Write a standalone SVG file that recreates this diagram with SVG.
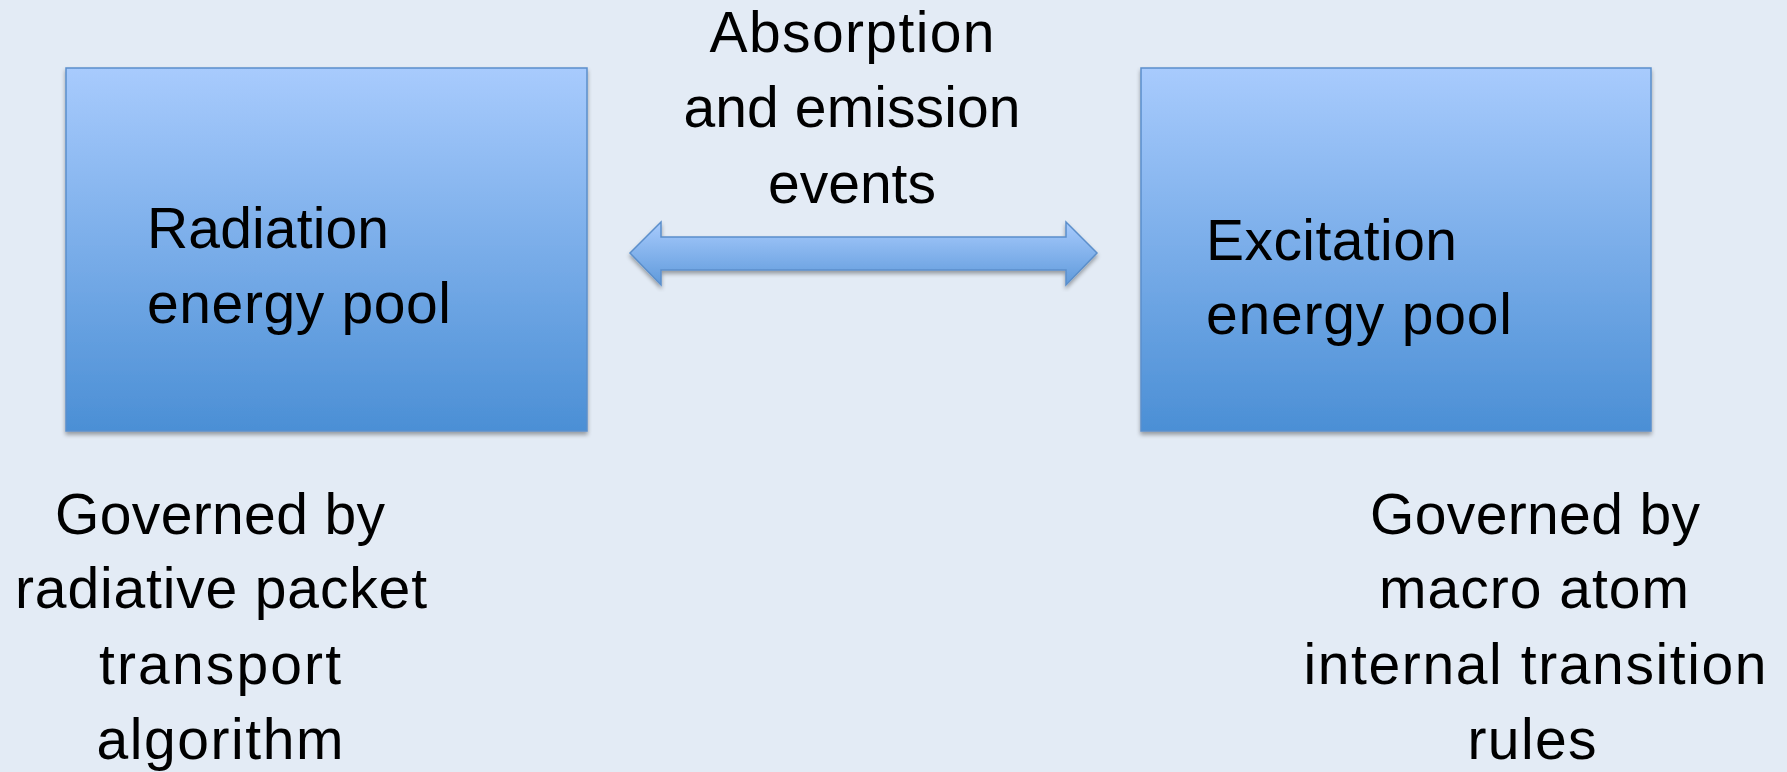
<svg xmlns="http://www.w3.org/2000/svg" width="1787" height="772" viewBox="0 0 1787 772">
<style>
.t{font-family:"Liberation Sans",Arial,sans-serif;font-size:57px;fill:#000}
.c{text-anchor:middle}
.box{fill:url(#g);stroke:#5B8FCB;stroke-width:1.5;filter:url(#sh)}
</style>
<defs>
<linearGradient id="g" x1="0" y1="0" x2="0" y2="1">
<stop offset="0" stop-color="#A8CBFD"/>
<stop offset="1" stop-color="#4B8FD5"/>
</linearGradient>
<linearGradient id="ga" x1="0" y1="0" x2="0" y2="1">
<stop offset="0" stop-color="#A8CBFD"/>
<stop offset="1" stop-color="#5F9ADB"/>
</linearGradient>
<filter id="sh" x="-5%" y="-5%" width="110%" height="115%">
<feGaussianBlur in="SourceAlpha" stdDeviation="2"/>
<feOffset dx="0" dy="3" result="b"/>
<feComponentTransfer><feFuncA type="linear" slope="0.35"/></feComponentTransfer>
<feMerge><feMergeNode/><feMergeNode in="SourceGraphic"/></feMerge>
</filter>
</defs>
<rect width="1787" height="772" fill="#E3EBF5"/>
<g id="connectors">
<path d="M630,253 L661,222 L661,237 L1066,237 L1066,222 L1097,253 L1066,285 L1066,270 L661,270 L661,285 Z" fill="url(#ga)" stroke="#5B8FCB" stroke-width="1.5" filter="url(#sh)"/>
</g>
<g id="label-events">
<text class="t c" x="852" y="52" textLength="285" lengthAdjust="spacing">Absorption</text>
<text class="t c" x="852" y="127" textLength="337" lengthAdjust="spacing">and emission</text>
<text class="t c" x="852" y="203">events</text>
</g>
<g id="node-radiation">
<rect class="box" x="66" y="68" width="521" height="363"/>
<text class="t" x="147" y="248" textLength="242" lengthAdjust="spacing">Radiation</text>
<text class="t" x="147" y="323" textLength="304" lengthAdjust="spacing">energy pool</text>
</g>
<g id="node-excitation">
<rect class="box" x="1141" y="68" width="510" height="363"/>
<text class="t" x="1206" y="260" textLength="251" lengthAdjust="spacing">Excitation</text>
<text class="t" x="1206" y="334" textLength="306" lengthAdjust="spacing">energy pool</text>
</g>
<g id="note-left">
<text class="t c" x="220" y="534" textLength="330" lengthAdjust="spacing">Governed by</text>
<text class="t c" x="221" y="608" textLength="412" lengthAdjust="spacing">radiative packet</text>
<text class="t c" x="220" y="684" textLength="242" lengthAdjust="spacing">transport</text>
<text class="t c" x="220" y="759" textLength="247" lengthAdjust="spacing">algorithm</text>
</g>
<g id="note-right">
<text class="t c" x="1535" y="534" textLength="330" lengthAdjust="spacing">Governed by</text>
<text class="t c" x="1534" y="608" textLength="310" lengthAdjust="spacing">macro atom</text>
<text class="t c" x="1535" y="684" textLength="463" lengthAdjust="spacing">internal transition</text>
<text class="t c" x="1532" y="759" textLength="129" lengthAdjust="spacing">rules</text>
</g>
</svg>
